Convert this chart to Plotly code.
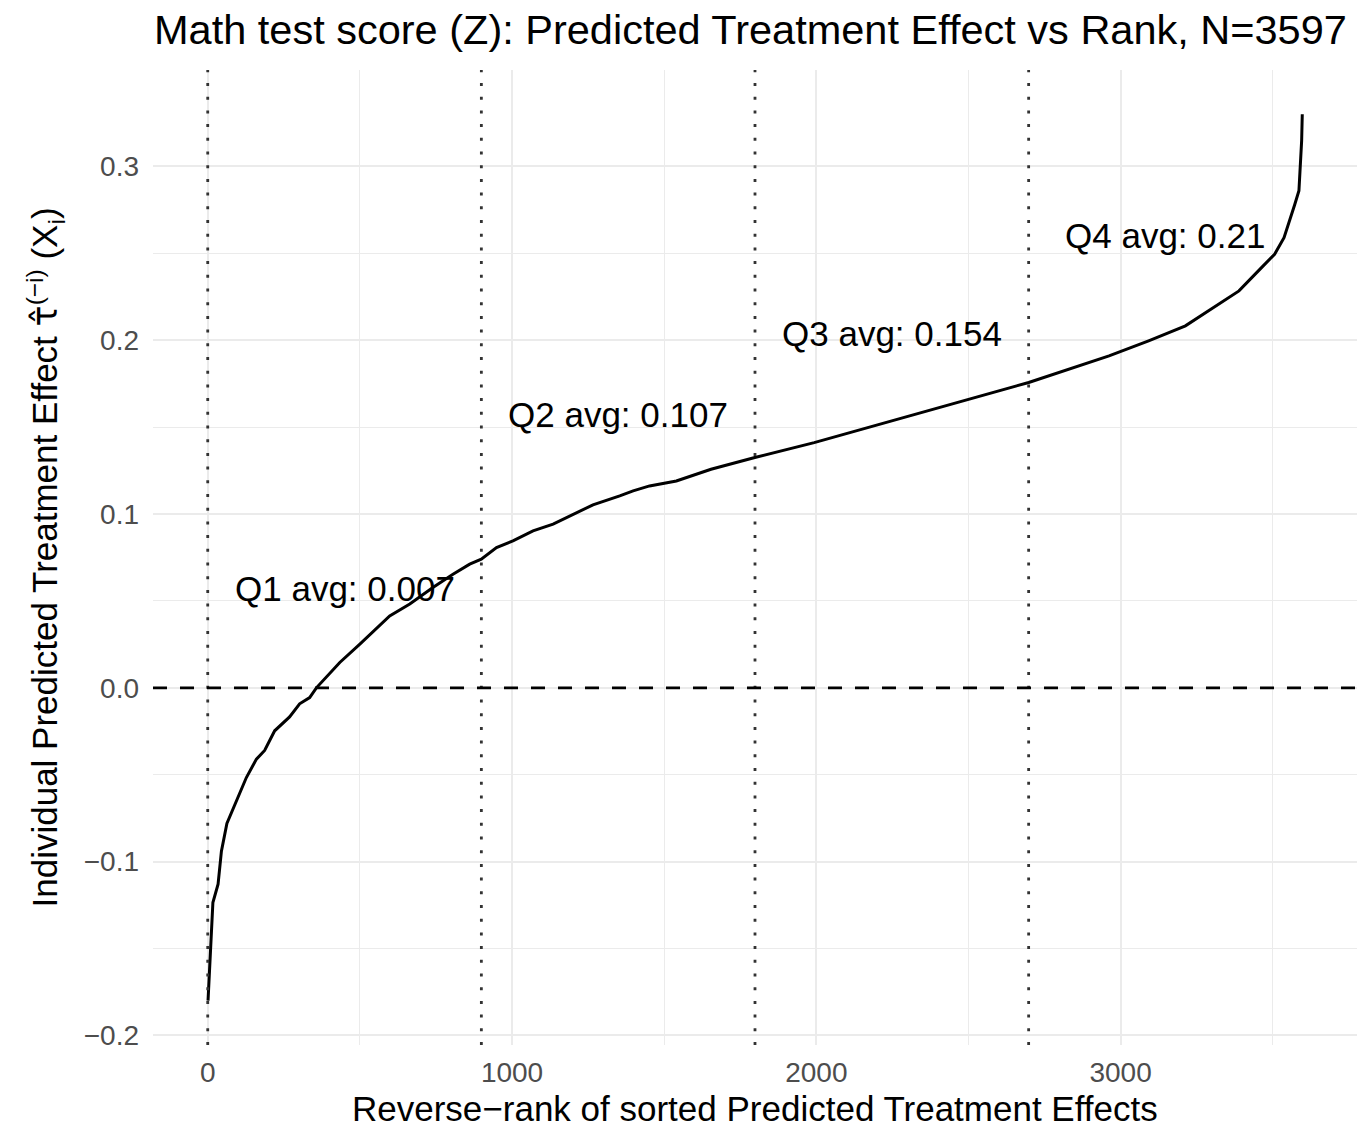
import plotly.graph_objects as go

# reverse rank and predicted effect
rank = [1, 4, 7, 12, 17, 34, 45, 63, 78, 99, 127, 160, 187, 220, 269, 302, 335, 357,
        368, 434, 500, 565, 598, 664, 740, 806, 861, 899, 949, 1003, 1069, 1135, 1200,
        1266, 1354, 1398, 1452, 1540, 1654, 1798, 1993, 2207, 2459, 2698, 2962, 3092,
        3213, 3339, 3389, 3463, 3506, 3537, 3556, 3572, 3586, 3592, 3595, 3597]
tau = [-0.180, -0.168, -0.159, -0.134, -0.1235, -0.113, -0.094, -0.078, -0.072, -0.063,
       -0.0516, -0.041, -0.036, -0.0247, -0.0167, -0.0092, -0.0056, 0.0,
       0.0021, 0.0146, 0.0251, 0.0357, 0.0414, 0.0482, 0.0577, 0.0654, 0.0712, 0.074,
       0.0807, 0.0846, 0.0903, 0.0942, 0.0999, 0.1053, 0.1105, 0.1133, 0.1162, 0.119,
       0.1258, 0.1325, 0.1411, 0.1517, 0.1642, 0.1757, 0.191, 0.1997, 0.2083, 0.2226,
       0.2284, 0.2418, 0.2495, 0.259, 0.2687, 0.278, 0.286, 0.3013, 0.315, 0.330]

N = 3597
quartile_cuts = [0, 899.25, 1798.5, 2697.75]
quartile_mid = [449.6, 1348.9, 2248.1, 3147.4]
quartile_labels = ["Q1 avg: 0.007", "Q2 avg: 0.107", "Q3 avg: 0.154", "Q4 avg: 0.21"]
quartile_avg = [0.007, 0.107, 0.154, 0.21]

FONT = "Liberation Sans"
W, H = 1349, 1113   # page body has an 8px margin

fig = go.Figure()

for xc in quartile_cuts:
    fig.add_vline(x=xc, line=dict(color="#333333", width=2.8, dash="3px,10.7px"))

fig.add_hline(y=0, line=dict(color="black", width=2.8, dash="14px,13px"))

fig.add_trace(go.Scatter(x=rank, y=tau, mode="lines",
                         line=dict(color="black", width=3), showlegend=False,
                         hoverinfo="x+y"))

for xm, lab, av in zip(quartile_mid, quartile_labels, quartile_avg):
    fig.add_annotation(x=xm, y=av + 0.05, text=lab, showarrow=False,
                       xanchor="center", yanchor="middle",
                       font=dict(family=FONT, size=35, color="black"))

# axis titles as annotations so they sit exactly where the reference has them
fig.add_annotation(xref="paper", yref="paper", x=0.5, y=0, yshift=-63,
                   xanchor="center", yanchor="middle", showarrow=False,
                   text="Reverse\u2212rank of sorted Predicted Treatment Effects",
                   font=dict(family=FONT, size=35, color="black"))
fig.add_annotation(xref="paper", yref="paper", x=0, y=0.5, xshift=-108,
                   xanchor="center", yanchor="middle", showarrow=False, textangle=-90,
                   text="Individual Predicted Treatment Effect "
                        "<span style=\"font-family:'DejaVu Sans'\">\u03c4\u0302</span>"
                        "<sup>(\u2212i)</sup> (X<sub>i</sub>)",
                   font=dict(family=FONT, size=35, color="black"))

fig.update_layout(
    width=W, height=H,
    margin=dict(l=145, r=0, t=62, b=76),
    paper_bgcolor="white", plot_bgcolor="white",
    font=dict(family=FONT),
    title=dict(text="Math test score (Z): Predicted Treatment Effect vs Rank, N=" + str(N),
               x=146 / W, xanchor="left", xref="container",
               y=1 - 21 / H, yanchor="middle",
               font=dict(family=FONT, size=41.5, color="black")),
)

fig.update_xaxes(
    range=[-179.85, 3776.85], tickmode="array", tickvals=[0, 1000, 2000, 3000],
    showgrid=True, gridcolor="#EBEBEB", gridwidth=2.2, zeroline=False,
    showline=False, ticks="", ticklabelstandoff=8, automargin=False,
    tickfont=dict(family=FONT, size=28, color="#4D4D4D"),
    minor=dict(tickvals=[500, 1500, 2500, 3500], showgrid=True,
               gridcolor="#EBEBEB", gridwidth=1.1),
)

fig.update_yaxes(
    range=[-0.2055, 0.3555], tickmode="array",
    tickvals=[-0.2, -0.1, 0.0, 0.1, 0.2, 0.3],
    ticktext=["\u22120.2", "\u22120.1", "0.0", "0.1", "0.2", "0.3"],
    showgrid=True, gridcolor="#EBEBEB", gridwidth=2.2, zeroline=False,
    showline=False, ticks="", ticklabelstandoff=13, automargin=False,
    tickfont=dict(family=FONT, size=28, color="#4D4D4D"),
    minor=dict(tickvals=[-0.15, -0.05, 0.05, 0.15, 0.25], showgrid=True,
               gridcolor="#EBEBEB", gridwidth=1.1),
)

fig.write_html("out.html")
